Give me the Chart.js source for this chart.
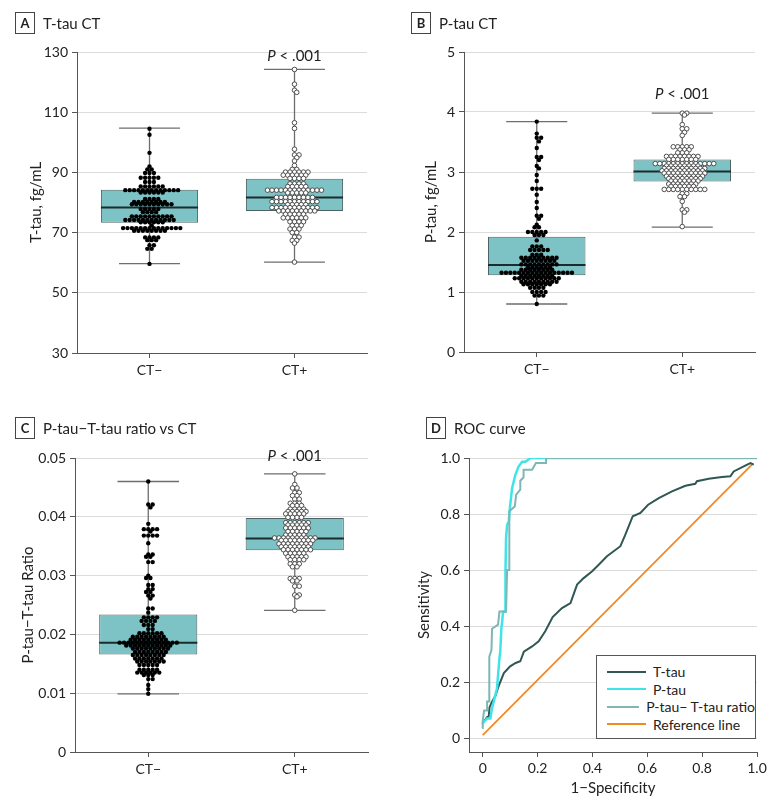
<!DOCTYPE html>
<html>
<head>
<meta charset="utf-8">
<script src="https://cdn.jsdelivr.net/npm/chart.js@4.4.1/dist/chart.umd.min.js"></script>
<style>
  body { margin: 0; background: #fff; color: #222; font-family: Lato, 'Liberation Sans', sans-serif; }
  #wrap { position: relative; width: 783px; height: 810px; overflow: hidden; }
  canvas { position: absolute; }
  .head { position: absolute; display: flex; align-items: center; font-size: 15px; white-space: nowrap; }
  .tag { box-sizing: border-box; width: 20px; height: 22px; border: 1px solid #444; font-weight: bold;
         font-size: 13px; display: flex; align-items: center; justify-content: center; margin-right: 8px; }
  #legend { position: absolute; left: 596px; top: 655px; width: 160px; height: 84px; box-sizing: border-box;
            border: 1px solid #555; background: #fff; padding-top: 7px; font-size: 14px; white-space: nowrap; }
  #legend div { display: flex; align-items: center; height: 17.5px; }
  #legend span.sw { display: inline-block; width: 39px; height: 2px; margin: 0 7px 0 10px; }
</style>
</head>
<body>
<div id="wrap">
  <canvas id="cA" width="392" height="400" style="left:0;top:0"></canvas>
  <canvas id="cB" width="391" height="400" style="left:392px;top:0"></canvas>
  <canvas id="cC" width="392" height="405" style="left:0;top:405px"></canvas>
  <canvas id="cD" width="391" height="405" style="left:392px;top:405px"></canvas>
  <div class="head" style="left:15px;top:12px"><span class="tag">A</span>T-tau CT</div>
  <div class="head" style="left:411px;top:12px"><span class="tag">B</span>P-tau CT</div>
  <div class="head" style="left:15px;top:417px"><span class="tag">C</span>P-tau−T-tau ratio vs CT</div>
  <div class="head" style="left:426px;top:417px"><span class="tag">D</span>ROC curve</div>
  <div id="legend"></div>
</div>
<script>
const groups = ['CT−', 'CT+'];

// box stats per group: [low whisker, Q1, median, Q3, high whisker]
const ttauStats = [[59.7, 73.3, 78.3, 84.2, 104.7], [60.2, 77.2, 81.7, 87.9, 124.2]];
const ptauStats = [[0.80, 1.28, 1.45, 1.92, 3.84], [2.08, 2.84, 3.01, 3.21, 3.98]];
const ratioStats = [[0.0099, 0.0166, 0.0186, 0.0234, 0.0460], [0.0241, 0.0343, 0.0363, 0.0398, 0.0473]];

// individual values
const ttauNeg = [104.5, 102.5, 96.5, 92, 91, 91, 89.8, 89.8, 89.8,
  88.2, 88.2, 88.2, 88.2, 88.2, 86.8, 86.8, 86.8, 85.3, 85.3, 85.3, 85.3, 85.3, 85.3,
  84.1, 84.1, 84.1, 84.1, 84.1, 84.1, 84.1, 84.1, 84.1, 84.1, 84.1, 84.1, 84.1,
  83.3, 83.3, 83.3, 83.3, 83.3, 83.3, 81.2, 81.2, 81.2, 81.2,
  80.2, 80.2, 80.2, 80.2, 80.2, 80.2, 80.2, 80.2,
  79.4, 79.4, 79.4, 79.4, 79.4, 79.4, 79.4, 79.4, 79.4, 79.4,
  77.8, 77.8, 77.8, 77.8, 77.8, 76.8, 76.8, 76.8, 76.8,
  75.4, 75.4, 75.4, 75.4, 75.4, 75.4, 75.4, 75.4, 75.4, 75.4,
  74.2, 74.2, 74.2, 74.2, 74.2, 74.2, 74.2, 74.2, 74.2, 74.2, 74.2, 74.2,
  73.4, 73.4, 73.4, 73.4, 73.4, 73.4, 72.4,
  71.5, 71.5, 71.5, 71.5, 71.5, 71.5, 71.5, 71.5, 71.5, 71.5, 71.5, 71.5, 71.5, 71.5,
  70.6, 70.6, 70.6, 70.6, 70.6, 70.6, 70.6, 70.6,
  68.4, 68.4, 68.4, 68.4, 67.5, 67.5, 67.5, 65.8, 65.8, 64.6, 64.6, 59.6];
const ttauPos = [124.2, 119.3, 117.3, 116.6, 106.5, 104.6, 97.7, 95.8, 95.8, 94.9, 93.8, 92.3, 91, 91,
  90.1, 90.1, 90.1, 90.1, 90.1, 90.1, 89.1, 89.1, 89.1, 89.1, 89.1, 89.1,
  88, 88, 88, 88, 86.2, 86.2, 86.2, 86.2, 85.3, 85.3, 85.3, 85.3, 85.3,
  84.1, 84.1, 84.1, 84.1, 84.1, 84.1, 84.1, 84.1, 84.1, 84.1, 84.1, 84.1, 84.1,
  83.2, 83.2, 83.2, 83.2, 83.2, 81.7, 81.7, 81.7, 81.7, 81.7, 81.7, 81.7, 81.7, 81.7,
  80.3, 80.3, 80.3, 80.3, 80.3, 80.3, 80.3, 80.3, 80.3, 80.3, 80.3,
  79.3, 79.3, 79.3, 79.3, 79.3,
  78.3, 78.3, 78.3, 78.3, 78.3, 78.3, 78.3, 78.3, 78.3, 78.3, 78.3,
  77.2, 77.2, 77.2, 77.2, 77.2, 77.2, 77.2, 77.2, 77.2,
  76.1, 76.1, 76.1, 76.1, 76.1, 74.9, 74.9, 74.9, 74.9, 74.9, 74.9,
  73.6, 73.6, 73.6, 73.6, 72.4, 72.4, 72.4, 71.2, 71.2, 71.2, 70, 70, 68.5, 68.5, 67.4, 67.4, 66.5, 60.2];

const ptauNeg = [3.84, 3.64, 3.57, 3.57, 3.51, 3.40, 3.25, 3.25, 3.20, 3.10, 3.06, 2.95, 2.85,
  2.72, 2.72, 2.72, 2.62, 2.50, 2.40, 2.27, 2.27, 2.22, 2.12, 2.08, 2.08,
  2.00, 2.00, 2.00, 2.00, 2.00, 1.95, 1.95, 1.95, 1.86, 1.76, 1.76, 1.76,
  1.70, 1.70, 1.70, 1.70, 1.70, 1.62, 1.62, 1.62,
  1.57, 1.57, 1.57, 1.57, 1.57, 1.57, 1.57, 1.57, 1.57,
  1.52, 1.52, 1.52, 1.52, 1.52, 1.52, 1.52, 1.52,
  1.46, 1.46, 1.46, 1.46, 1.46, 1.46, 1.46, 1.46, 1.46,
  1.41, 1.41, 1.41, 1.41, 1.41, 1.41, 1.37, 1.37, 1.37, 1.37, 1.37, 1.37, 1.37, 1.37,
  1.32, 1.32, 1.32, 1.32, 1.32, 1.32, 1.32, 1.32, 1.32, 1.32, 1.32, 1.32, 1.32, 1.32, 1.32, 1.32, 1.32,
  1.27, 1.27, 1.27, 1.27, 1.27, 1.27, 1.27, 1.27,
  1.23, 1.23, 1.23, 1.23, 1.23, 1.23, 1.23, 1.23, 1.23, 1.23, 1.23,
  1.17, 1.17, 1.17, 1.17, 1.17, 1.17, 1.17, 1.17, 1.17,
  1.13, 1.13, 1.13, 1.13, 1.13, 1.13, 1.13,
  1.07, 1.07, 1.07, 1.07, 1.00, 1.00, 1.00, 1.00, 0.94, 0.94, 0.94, 0.80];
const ptauPos = [3.98, 3.98, 3.95, 3.79, 3.72, 3.72, 3.66, 3.61,
  3.42, 3.42, 3.42, 3.42, 3.42, 3.37, 3.37, 3.37, 3.32, 3.32, 3.32,
  3.26, 3.26, 3.26, 3.26, 3.26, 3.26, 3.26, 3.26, 3.21, 3.21, 3.21, 3.21, 3.21, 3.21, 3.21,
  3.14, 3.14, 3.14, 3.14, 3.14, 3.14, 3.14, 3.14, 3.14, 3.14, 3.14, 3.14, 3.14, 3.14,
  3.10, 3.10, 3.10, 3.10, 3.10, 3.10, 3.10, 3.10,
  3.06, 3.06, 3.06, 3.06, 3.06, 3.06, 3.06, 3.06, 3.06, 3.06,
  3.02, 3.02, 3.02, 3.02, 3.02, 3.02, 3.02, 3.02, 3.02, 3.02,
  2.98, 2.98, 2.98, 2.98, 2.98, 2.98, 2.98, 2.98, 2.98, 2.98,
  2.93, 2.93, 2.93, 2.93, 2.93, 2.93, 2.93, 2.93, 2.93,
  2.89, 2.89, 2.89, 2.89, 2.89, 2.89, 2.89, 2.89,
  2.85, 2.85, 2.85, 2.85, 2.85, 2.85, 2.85, 2.80, 2.80, 2.80, 2.80, 2.80, 2.80, 2.80,
  2.76, 2.76, 2.76, 2.76, 2.76, 2.76,
  2.71, 2.71, 2.71, 2.71, 2.71, 2.71, 2.71, 2.71, 2.71, 2.71,
  2.64, 2.64, 2.59, 2.59, 2.51, 2.37, 2.37, 2.33, 2.09];

const ratioNeg = [0.0460, 0.0421, 0.0421, 0.0416, 0.0388, 0.0379, 0.0379, 0.0379, 0.0379, 0.0375,
  0.0368, 0.0368, 0.0368, 0.0368, 0.0355, 0.0336, 0.0336, 0.0332, 0.0332, 0.0323, 0.0323,
  0.0300, 0.0296, 0.0296, 0.0284, 0.0284, 0.0277, 0.0277, 0.0272, 0.0272, 0.0266, 0.0266, 0.0261,
  0.0244, 0.0244, 0.0237, 0.0229, 0.0229, 0.0229, 0.0229, 0.0223, 0.0223, 0.0223, 0.0223,
  0.0216, 0.0216, 0.0216, 0.0209, 0.0209,
  0.0202, 0.0202, 0.0202, 0.0202, 0.0202, 0.0202,
  0.0196, 0.0196, 0.0196, 0.0196, 0.0196, 0.0196, 0.0196, 0.0196,
  0.0191, 0.0191, 0.0191, 0.0191, 0.0191, 0.0191, 0.0191, 0.0191, 0.0191,
  0.0186, 0.0186, 0.0186, 0.0186, 0.0186, 0.0186, 0.0186, 0.0186, 0.0186, 0.0186, 0.0186, 0.0186, 0.0186, 0.0186,
  0.0181, 0.0181, 0.0181, 0.0181, 0.0181, 0.0181, 0.0181, 0.0181, 0.0181, 0.0181, 0.0181,
  0.0176, 0.0176, 0.0176, 0.0176, 0.0176, 0.0176, 0.0176, 0.0176, 0.0176,
  0.0170, 0.0170, 0.0170, 0.0170, 0.0170, 0.0170, 0.0170, 0.0170,
  0.0165, 0.0165, 0.0165, 0.0165, 0.0165, 0.0165, 0.0165, 0.0165,
  0.0159, 0.0159, 0.0159, 0.0159, 0.0159, 0.0159, 0.0159,
  0.0154, 0.0154, 0.0154, 0.0154, 0.0154, 0.0154, 0.0154,
  0.0148, 0.0148, 0.0148, 0.0148, 0.0148, 0.0140, 0.0140, 0.0140, 0.0140, 0.0140,
  0.0135, 0.0135, 0.0135, 0.0135, 0.0135, 0.0135, 0.0131, 0.0131, 0.0131,
  0.0124, 0.0124, 0.0114, 0.0107, 0.0099];
const ratioPos = [0.0473, 0.0455, 0.0449, 0.0449, 0.0441, 0.0441, 0.0436, 0.0436, 0.0430, 0.0430,
  0.0423, 0.0423, 0.0423, 0.0419, 0.0419, 0.0419, 0.0413, 0.0413, 0.0413, 0.0413,
  0.0409, 0.0409, 0.0409, 0.0409, 0.0409, 0.0405, 0.0405, 0.0405, 0.0405, 0.0405,
  0.0399, 0.0399, 0.0399, 0.0399, 0.0390, 0.0390, 0.0390, 0.0390, 0.0390, 0.0390,
  0.0386, 0.0386, 0.0386, 0.0386, 0.0386, 0.0381, 0.0381, 0.0381, 0.0381, 0.0381, 0.0381,
  0.0375, 0.0375, 0.0375, 0.0375, 0.0375, 0.0369, 0.0369, 0.0369, 0.0369, 0.0369,
  0.0364, 0.0364, 0.0364, 0.0364, 0.0364, 0.0364, 0.0364, 0.0364, 0.0364, 0.0364,
  0.0360, 0.0360, 0.0360, 0.0360, 0.0360, 0.0360, 0.0360, 0.0360,
  0.0354, 0.0354, 0.0354, 0.0354, 0.0354, 0.0354, 0.0354, 0.0354,
  0.0349, 0.0349, 0.0349, 0.0349, 0.0349, 0.0349, 0.0349,
  0.0344, 0.0344, 0.0344, 0.0344, 0.0344, 0.0344, 0.0344,
  0.0338, 0.0338, 0.0338, 0.0338, 0.0338, 0.0332, 0.0332, 0.0332, 0.0332, 0.0332,
  0.0327, 0.0327, 0.0327, 0.0327, 0.0320, 0.0320, 0.0320, 0.0315, 0.0315,
  0.0295, 0.0295, 0.0295, 0.0291, 0.0291, 0.0282, 0.0282, 0.0267, 0.0267, 0.0264, 0.0241];

// ROC curves
const rocNames = ['T-tau', 'P-tau', 'P-tau− T-tau ratio', 'Reference line'];
const rocColors = ['#2f5753', '#3fe4e8', '#7fb6b6', '#f28a23'];
const ttauFpr = [0.004, 0.016, 0.022, 0.025, 0.034, 0.046, 0.058, 0.077, 0.10, 0.12, 0.137, 0.150, 0.18, 0.204,
  0.228, 0.255, 0.289, 0.32, 0.344, 0.368, 0.398, 0.423, 0.453, 0.502, 0.52, 0.547, 0.575, 0.603, 0.642,
  0.69, 0.739, 0.775, 0.781, 0.824, 0.872, 0.903, 0.915, 0.957, 0.976, 0.988];
const ttauTpr = [0.058, 0.075, 0.077, 0.11, 0.13, 0.15, 0.185, 0.232, 0.256, 0.268, 0.274, 0.308, 0.327, 0.345,
  0.381, 0.432, 0.464, 0.482, 0.548, 0.571, 0.595, 0.619, 0.649, 0.685, 0.726, 0.792, 0.804, 0.833, 0.857,
  0.881, 0.901, 0.908, 0.917, 0.926, 0.932, 0.935, 0.952, 0.973, 0.982, 0.976];
const ptauFpr = [-0.002, 0.016, 0.028, 0.034, 0.040, 0.046, 0.052, 0.056, 0.061, 0.064, 0.068, 0.071, 0.074,
  0.083, 0.083, 0.085, 0.089, 0.095, 0.099, 0.107, 0.119, 0.131, 0.144, 0.156, 0.174, 1.0];
const ptauTpr = [0.05, 0.07, 0.07, 0.106, 0.13, 0.154, 0.177, 0.225, 0.285, 0.308, 0.392, 0.415, 0.451,
  0.451, 0.594, 0.713, 0.761, 0.773, 0.82, 0.892, 0.94, 0.97, 0.987, 0.987, 1.0, 1.0];
const ratioFpr = [-0.002, 0, 0.005, 0.016, 0.016, 0.024, 0.024, 0.032, 0.034, 0.056, 0.061, 0.085, 0.089,
  0.097, 0.097, 0.117, 0.122, 0.137, 0.137, 0.149, 0.149, 0.18, 0.194, 0.231, 0.231, 1.0];
const ratioTpr = [0.036, 0.06, 0.098, 0.098, 0.13, 0.13, 0.29, 0.315, 0.39, 0.405, 0.452, 0.452, 0.6,
  0.6, 0.81, 0.827, 0.869, 0.887, 0.919, 0.931, 0.958, 0.958, 0.982, 0.982, 1.0, 1.0];
const refFpr = [0, 0.985];
const refTpr = [0.01, 0.98];
const rocTicks = [0, 0.2, 0.4, 0.6, 0.8, 1.0];

const FONT = "Lato, 'Liberation Sans', sans-serif";
Chart.defaults.font.family = FONT;
Chart.defaults.font.size = 14;
Chart.defaults.color = '#222';

const BOX_HALF = 0.335, CAP_HALF = 0.21;
const zip = (xs, ys) => xs.map((x, i) => ({ x: x, y: ys[i] }));

function pLabel(yVal) {
  return {
    id: 'pLabel',
    afterDatasetsDraw(chart) {
      const ctx = chart.ctx;
      const px = chart.scales.x.getPixelForValue(1), py = chart.scales.y.getPixelForValue(yVal);
      ctx.save();
      ctx.textBaseline = 'middle';
      ctx.fillStyle = '#222';
      ctx.font = 'italic 15px ' + FONT;
      const w1 = ctx.measureText('P').width;
      ctx.font = '15px ' + FONT;
      const rest = ' < .001', w2 = ctx.measureText(rest).width;
      const x0 = px - (w1 + w2) / 2;
      ctx.font = 'italic 15px ' + FONT;
      ctx.fillText('P', x0, py);
      ctx.font = '15px ' + FONT;
      ctx.fillText(rest, x0 + w1, py);
      ctx.restore();
    }
  };
}

// beeswarm: same row -> full spacing, neighbouring rows -> half spacing (staggered)
function swarm(chart, dsIndex, group, values, gap, reach) {
  const xs = chart.scales.x, ys = chart.scales.y;
  const unit = xs.getPixelForValue(1) - xs.getPixelForValue(0);
  const need = dy => (dy < 0.5 ? gap : dy < reach ? gap / 2 : 0);
  const placed = [];
  values.slice().sort((a, b) => b - a).forEach(v => {
    const py = ys.getPixelForValue(v);
    const near = placed.filter(p => Math.abs(p.y - py) < reach);
    const cands = [0];
    near.forEach(p => {
      const d = need(Math.abs(p.y - py));
      cands.push(p.x + d, p.x - d);
    });
    cands.sort((a, b) => Math.abs(a) - Math.abs(b) || b - a);
    const ok = cands.find(c => near.every(p => Math.abs(p.x - c) >= need(Math.abs(p.y - py)) - 0.01));
    placed.push({ x: ok, y: py, v: v });
  });
  chart.data.datasets[dsIndex].data = placed.map(p => ({ x: group + p.x / unit, y: p.v }));
}

function boxPanel(id, stats, neg, pos, lay) {
  const boxes = stats.map((s, i) => ({ x: i, y: [s[1], s[3]] }));
  const medians = [], whiskers = [];
  stats.forEach((s, i) => {
    medians.push({ x: i - BOX_HALF, y: s[2] }, { x: i + BOX_HALF, y: s[2] }, { x: i, y: null });
    whiskers.push({ x: i, y: s[0] }, { x: i, y: s[4] }, { x: i, y: null },
      { x: i - CAP_HALF, y: s[0] }, { x: i + CAP_HALF, y: s[0] }, { x: i, y: null },
      { x: i - CAP_HALF, y: s[4] }, { x: i + CAP_HALF, y: s[4] }, { x: i, y: null });
  });
  const chart = new Chart(document.getElementById(id), {
    type: 'scatter',
    data: { datasets: [
      { type: 'scatter', data: [], pointRadius: 2.2, backgroundColor: '#000', borderWidth: 0, order: 0 },
      { type: 'scatter', data: [], pointRadius: 2.3, backgroundColor: '#fff', borderColor: '#4d4d4d', borderWidth: 1, order: 0 },
      { type: 'line', data: medians, borderColor: '#1c2b2b', borderWidth: 2, pointRadius: 0, order: 1 },
      { type: 'bar', data: boxes, backgroundColor: '#7dc3c6', borderColor: '#4b6364', borderWidth: 1,
        borderSkipped: false, barPercentage: 0.67, categoryPercentage: 1, order: 2 },
      { type: 'line', data: whiskers, borderColor: '#6e6e6e', borderWidth: 1.3, pointRadius: 0, order: 3 }
    ]},
    options: {
      responsive: false, animation: false, devicePixelRatio: 1,
      layout: { padding: { top: lay.top, right: lay.right, left: 0, bottom: 0 } },
      plugins: { legend: { display: false }, tooltip: { enabled: false } },
      scales: {
        x: {
          type: 'linear', min: -0.5, max: 1.5, offset: false,
          afterBuildTicks: s => { s.ticks = groups.map((g, i) => ({ value: i })); },
          afterFit: s => { s.height = lay.xh; },
          ticks: { callback: v => groups[v], padding: 4, font: { size: 14 } },
          grid: { offset: false, drawOnChartArea: false, tickLength: 5, tickColor: '#555' },
          border: { color: '#555' }
        },
        y: {
          min: lay.min, max: lay.max,
          ticks: { stepSize: lay.step, padding: 4, font: { size: 14 } },
          afterFit: s => { s.width = lay.yw; },
          grid: { color: '#dcdcdc', tickLength: 5, tickColor: '#555' },
          border: { color: '#555' },
          title: { display: true, text: lay.title, font: { size: 15 }, padding: { top: lay.tpad, bottom: 0 } }
        }
      }
    },
    plugins: [pLabel(lay.pY)]
  });
  swarm(chart, 0, 0, neg, 4.4, 4.0);
  swarm(chart, 1, 1, pos, 4.5, 4.0);
  chart.update('none');
}

boxPanel('cA', ttauStats, ttauNeg, ttauPos,
  { top: 52, right: 25, xh: 47, yw: 77, min: 30, max: 130, step: 20, title: 'T-tau, fg/mL', tpad: 27, pY: 128.5 });
boxPanel('cB', ptauStats, ptauNeg, ptauPos,
  { top: 52, right: 28, xh: 48, yw: 72, min: 0, max: 5, step: 1, title: 'P-tau, fg/mL', tpad: 30, pY: 4.3 });
boxPanel('cC', ratioStats, ratioNeg, ratioPos,
  { top: 53, right: 24, xh: 58, yw: 75, min: 0, max: 0.05, step: 0.01, title: 'P-tau−T-tau Ratio', tpad: 19, pY: 0.0503 });

const rocSeries = [zip(ttauFpr, ttauTpr), zip(ptauFpr, ptauTpr), zip(ratioFpr, ratioTpr), zip(refFpr, refTpr)];
const rocWidths = [2, 2.5, 2, 1.8];
const rocOrder = [2, 1, 0, 3];
new Chart(document.getElementById('cD'), {
  type: 'scatter',
  data: { datasets: rocSeries.map((d, i) => ({
    label: rocNames[i], data: d, showLine: true, borderColor: rocColors[i], borderWidth: rocWidths[i],
    pointRadius: 0, tension: 0, order: rocOrder[i]
  })) },
  options: {
    responsive: false, animation: false, devicePixelRatio: 1,
    layout: { padding: { top: 53, right: 26, left: 0, bottom: 0 } },
    plugins: { legend: { display: false }, tooltip: { enabled: false } },
    scales: {
      x: {
        type: 'linear', min: -0.05, max: 1.0,
        afterBuildTicks: s => { s.ticks = rocTicks.map(v => ({ value: v })); },
        afterFit: s => { s.height = 58; },
        ticks: { callback: v => v === 0 ? '0' : v.toFixed(1), padding: 3, font: { size: 14 } },
        grid: { drawOnChartArea: false, tickLength: 5, tickColor: '#555' },
        border: { color: '#555' },
        title: { display: true, text: '1−Specificity', font: { size: 15 }, padding: { top: 0, bottom: 13 } }
      },
      y: {
        min: -0.05, max: 1.0,
        afterBuildTicks: s => { s.ticks = rocTicks.map(v => ({ value: v })); },
        afterFit: s => { s.width = 77; },
        ticks: { callback: v => v === 0 ? '0' : v.toFixed(1), padding: 4, font: { size: 14 } },
        grid: { color: '#dcdcdc', tickLength: 5, tickColor: '#555' },
        border: { color: '#555' },
        title: { display: true, text: 'Sensitivity', font: { size: 15 }, padding: { top: 23, bottom: 0 } }
      }
    }
  }
});

document.getElementById('legend').innerHTML = rocNames.map((n, i) =>
  '<div><span class="sw" style="background:' + rocColors[i] + '"></span>' + n + '</div>').join('');
</script>
</body>
</html>
